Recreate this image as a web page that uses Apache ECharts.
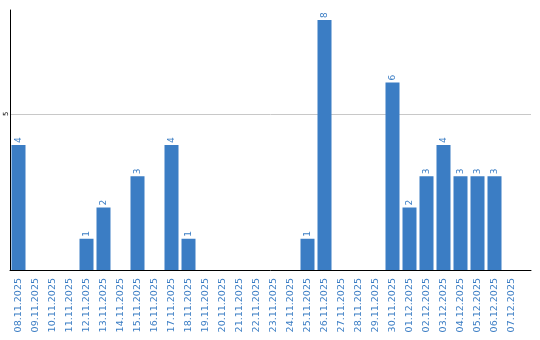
<!DOCTYPE html>
<html><head><meta charset="utf-8">
<script src="https://cdn.jsdelivr.net/npm/echarts@6/dist/echarts.min.js"></script>
<style>html,body{margin:0;padding:0;background:#fff}#c{width:540px;height:340px}</style>
</head><body><div id="c"></div>
<script>
var categories = ["08.11.2025","09.11.2025","10.11.2025","11.11.2025","12.11.2025","13.11.2025","14.11.2025","15.11.2025","16.11.2025","17.11.2025","18.11.2025","19.11.2025","20.11.2025","21.11.2025","22.11.2025","23.11.2025","24.11.2025","25.11.2025","26.11.2025","27.11.2025","28.11.2025","29.11.2025","30.11.2025","01.12.2025","02.12.2025","03.12.2025","04.12.2025","05.12.2025","06.12.2025","07.12.2025"];
var values = [4,0,0,0,1,2,0,3,0,4,1,0,0,0,0,0,0,1,8,0,0,0,6,2,3,4,3,3,3,0];
var yTicks = [5];
var blue = '#3b7dc4';
var chart = echarts.init(document.getElementById('c'));
chart.setOption({
  animation: false,
  grid: [
    {left: 10, width: 510, top: 10, bottom: 70},
    {left: 10, right: 9, top: 10, bottom: 70}
  ],
  xAxis: [
    {type: 'category', gridIndex: 0, data: categories,
     axisLine: {show: false}, axisTick: {show: false},
     axisLabel: {interval: 0, rotate: 90, margin: 8, fontSize: 9.5, fontFamily: 'DejaVu Sans', color: blue}},
    {type: 'value', gridIndex: 1, min: 0, max: 1,
     axisLine: {show: true, onZero: false, lineStyle: {color: '#000', width: 1}},
     axisTick: {show: false}, axisLabel: {show: false}, splitLine: {show: false}}
  ],
  yAxis: [
    {type: 'value', gridIndex: 0, min: 0, max: 8.32, interval: 5,
     axisLine: {show: true, lineStyle: {color: '#000', width: 1}},
     axisTick: {show: false},
     splitLine: {show: false},
     axisLabel: {rotate: 90, margin: 0, fontSize: 7, fontFamily: 'DejaVu Sans', color: '#000',
       formatter: function (v) { return yTicks.indexOf(v) >= 0 ? String(v) : ''; }}},
    {type: 'value', gridIndex: 1, min: 0, max: 8.32, interval: 5,
     axisLine: {show: false}, axisTick: {show: false}, axisLabel: {show: false},
     splitLine: {show: true, showMinLine: false, showMaxLine: false, lineStyle: {color: '#c8c8c8', width: 1}}}
  ],
  series: [{
    type: 'bar', xAxisIndex: 0, yAxisIndex: 0, data: values, barWidth: 14,
    itemStyle: {color: blue},
    label: {show: true, position: 'top', rotate: 90, align: 'left', verticalAlign: 'middle', distance: 2,
      fontSize: 9, fontFamily: 'DejaVu Sans', color: blue,
      formatter: function (p) { return p.value === 0 ? '' : String(p.value); }}
  }]
});
</script></body></html>
